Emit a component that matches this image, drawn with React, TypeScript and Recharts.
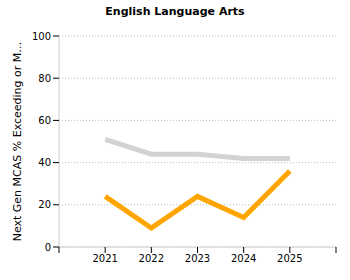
import { LineChart, Line, CartesianGrid, XAxis, YAxis } from 'recharts';

const years = [2021, 2022, 2023, 2024, 2025];
const stateValues = [51, 44, 44, 42, 42];
const schoolValues = [24, 9, 24, 14, 36];
const yTicks = [0, 20, 40, 60, 80, 100];
const xTicks = [2020, 2021, 2022, 2023, 2024, 2025, 2026];

const data = years.map((year, i) => ({ year, state: stateValues[i], school: schoolValues[i] }));

const font = 'Verdana, "DejaVu Sans", sans-serif';

export default function App() {
  const yearFormatter = (v: number) => (v < 2021 || v > 2025 ? '' : String(v));

  return (
    <div style={{ position: 'absolute', left: 0, top: 0, width: 350, height: 280, fontFamily: font }}>
      <div style={{ position: 'absolute', top: 5, left: 0, width: 350, textAlign: 'center', fontSize: 11, fontWeight: 'bold' }}>
        English Language Arts
      </div>
      <LineChart width={350} height={280} data={data} margin={{ top: 36, left: 0, right: 14, bottom: 3 }}>
        <CartesianGrid stroke="#bbb" strokeDasharray="1 2" vertical={false} />
        <XAxis
          dataKey="year"
          type="number"
          domain={[2020, 2026]}
          ticks={xTicks}
          tickFormatter={yearFormatter}
          height={30}
          stroke="#ccc"
          tickLine={{ stroke: '#000' }}
          tick={{ fill: '#000', fontSize: 10, fontFamily: font }}
        />
        <YAxis
          domain={[0, 100]}
          ticks={yTicks}
          width={59}
          stroke="#ccc"
          tickLine={{ stroke: '#000' }}
          tick={{ fill: '#000', fontSize: 10, fontFamily: font }}
          label={{
            value: 'Next Gen MCAS % Exceeding or M…',
            angle: -90,
            position: 'insideLeft',
            offset: 17,
            style: { textAnchor: 'middle', fontSize: 11, fill: '#000', fontFamily: font },
          }}
        />
        <Line dataKey="state" stroke="#d3d3d3" strokeWidth={5} dot={false} isAnimationActive={false} />
        <Line dataKey="school" stroke="#ffa500" strokeWidth={5} dot={false} isAnimationActive={false} />
      </LineChart>
    </div>
  );
}
